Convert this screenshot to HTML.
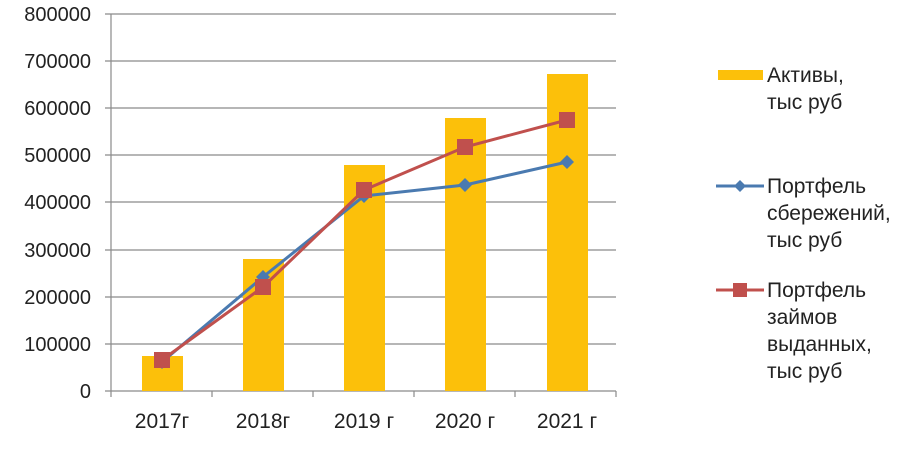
<!DOCTYPE html><html><head><meta charset="utf-8"><style>body{margin:0;background:#fff}</style></head><body>
<svg width="900" height="453" xmlns="http://www.w3.org/2000/svg" font-family="Liberation Sans, DejaVu Sans, sans-serif">
<rect width="900" height="453" fill="#fff"/>
<g stroke="#8a8a8a" stroke-width="1.2">
<line x1="105" y1="14" x2="616" y2="14"/><line x1="105" y1="61" x2="616" y2="61"/><line x1="105" y1="108" x2="616" y2="108"/><line x1="105" y1="155" x2="616" y2="155"/><line x1="105" y1="202" x2="616" y2="202"/><line x1="105" y1="250" x2="616" y2="250"/><line x1="105" y1="297" x2="616" y2="297"/><line x1="105" y1="344" x2="616" y2="344"/><line x1="105" y1="391" x2="616" y2="391"/>
<line x1="111" y1="14" x2="111" y2="397"/>
<line x1="212" y1="391" x2="212" y2="397"/><line x1="313" y1="391" x2="313" y2="397"/><line x1="414" y1="391" x2="414" y2="397"/><line x1="515" y1="391" x2="515" y2="397"/><line x1="616" y1="391" x2="616" y2="397"/>
</g>
<g font-size="20" fill="#222" text-anchor="end">
<text x="91" y="21">800000</text><text x="91" y="68">700000</text><text x="91" y="115">600000</text><text x="91" y="162">500000</text><text x="91" y="209">400000</text><text x="91" y="257">300000</text><text x="91" y="304">200000</text><text x="91" y="351">100000</text><text x="91" y="398">0</text>
</g>
<g font-size="21" fill="#222" text-anchor="middle">
<text x="162" y="428">2017г</text><text x="263" y="428">2018г</text><text x="364" y="428">2019 г</text><text x="465" y="428">2020 г</text><text x="567" y="428">2021 г</text>
</g>
<g fill="#fcc00a">
<rect x="142" y="356" width="41" height="35"/><rect x="243" y="259" width="41" height="132"/><rect x="344" y="165" width="41" height="226"/><rect x="445" y="118" width="41" height="273"/><rect x="547" y="74" width="41" height="317"/>
</g>
<polyline points="162,362 263,277 364,196 465,185 567,162" fill="none" stroke="#4a7ab0" stroke-width="3"/>
<g fill="#4a7ab0">
<path d="M162,355 l7,7 -7,7 -7,-7z"/><path d="M263,270 l7,7 -7,7 -7,-7z"/><path d="M364,189 l7,7 -7,7 -7,-7z"/><path d="M465,178 l7,7 -7,7 -7,-7z"/><path d="M567,155 l7,7 -7,7 -7,-7z"/>
</g>
<polyline points="162,360 263,287 364,190 465,147 567,120" fill="none" stroke="#c0504d" stroke-width="3"/>
<g fill="#c0504d">
<rect x="154" y="352" width="16" height="16"/><rect x="255" y="279" width="16" height="16"/><rect x="356" y="182" width="16" height="16"/><rect x="457" y="139" width="16" height="16"/><rect x="559" y="112" width="16" height="16"/>
</g>
<rect x="718" y="70" width="45" height="10" fill="#fcc00a"/>
<line x1="716" y1="186" x2="764" y2="186" stroke="#4a7ab0" stroke-width="3"/><path d="M740,180 l6,6 -6,6 -6,-6z" fill="#4a7ab0"/>
<line x1="716" y1="290" x2="764" y2="290" stroke="#c0504d" stroke-width="3"/><rect x="733" y="283" width="14" height="14" fill="#c0504d"/>
<g font-size="21" fill="#222">
<text x="767" y="82">Активы,</text><text x="767" y="109">тыс руб</text>
<text x="767" y="193">Портфель</text><text x="767" y="220">сбережений,</text><text x="767" y="247">тыс руб</text>
<text x="767" y="297">Портфель</text><text x="767" y="324">займов</text><text x="767" y="351">выданных,</text><text x="767" y="378">тыс руб</text>
</g>
</svg></body></html>
